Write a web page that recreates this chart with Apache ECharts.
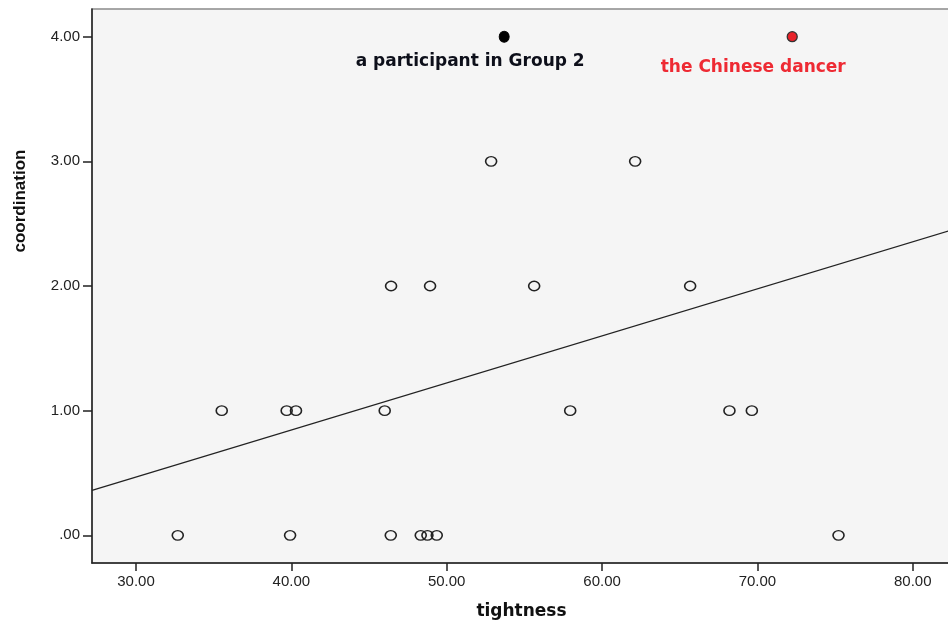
<!DOCTYPE html>
<html>
<head>
<meta charset="utf-8">
<script src="https://cdn.jsdelivr.net/npm/echarts@6/dist/echarts.min.js"></script>
<style>
  html, body { margin: 0; padding: 0; background: #ffffff; }
  #chart { width: 948px; height: 623px; }
</style>
</head>
<body>
<div id="chart"></div>
<script>
// tightness / coordination scores per participant
const tightness = [
  32.69, 39.92, 46.40, 48.33, 48.76, 49.36, 75.22,
  35.52, 39.70, 40.30, 46.01, 57.95, 68.20, 69.64,
  46.42, 48.93, 55.63, 65.67,
  52.86, 62.13
];
const coordination = [
  0, 0, 0, 0, 0, 0, 0,
  1, 1, 1, 1, 1, 1, 1,
  2, 2, 2, 2,
  3, 3
];
// highlighted participants
const groupTwoPoint = [53.70, 4];
const dancerPoint = [72.24, 4];

const xTicks = [30, 40, 50, 60, 70, 80];
const yTicks = [0, 1, 2, 3, 4];
const xRange = [27.17, 82.46];
const yRange = [-0.222, 4.222];

// least-squares fit over all participants
const allX = tightness.concat([groupTwoPoint[0], dancerPoint[0]]);
const allY = coordination.concat([groupTwoPoint[1], dancerPoint[1]]);
const n = allX.length;
const mx = allX.reduce((a, b) => a + b, 0) / n;
const my = allY.reduce((a, b) => a + b, 0) / n;
let sxy = 0, sxx = 0;
for (let i = 0; i < n; i++) {
  sxy += (allX[i] - mx) * (allY[i] - my);
  sxx += (allX[i] - mx) * (allX[i] - mx);
}
const slope = sxy / sxx;
const intercept = my - slope * mx;
const fitLine = xRange.map(x => [x, intercept + slope * x]);

const tickFmt = v => (v === 0 ? '.00' : v.toFixed(2));

const chart = echarts.init(document.getElementById('chart'), null, { renderer: 'canvas' });
chart.setOption({
  animation: false,
  backgroundColor: '#ffffff',
  grid: {
    left: 92, top: 9, right: -3, bottom: 60,
    outerBoundsMode: 'none', containLabel: false,
    show: true, backgroundColor: '#f5f5f5',
    borderColor: '#8a8a8a', borderWidth: 1.5
  },
  xAxis: {
    type: 'value', min: xRange[0], max: xRange[1],
    name: 'tightness', nameLocation: 'middle', nameGap: 40,
    nameTextStyle: { fontFamily: 'DejaVu Sans', fontWeight: 'bold', fontSize: 17, color: '#111' },
    axisLine: { show: true, onZero: false, lineStyle: { color: '#222', width: 1.5 } },
    axisTick: { show: true, customValues: xTicks, length: 8, lineStyle: { color: '#222', width: 1.5 } },
    axisLabel: { customValues: xTicks, formatter: tickFmt, fontFamily: 'Liberation Sans', fontSize: 15, color: '#222', margin: 11 },
    splitLine: { show: false }
  },
  yAxis: {
    type: 'value', min: yRange[0], max: yRange[1],
    axisLine: { show: true, onZero: false, lineStyle: { color: '#222', width: 1.5 } },
    axisTick: { show: true, customValues: yTicks, length: 9, lineStyle: { color: '#222', width: 1.5 } },
    axisLabel: { customValues: yTicks, formatter: tickFmt, fontFamily: 'Liberation Sans', fontSize: 15, color: '#222', margin: 12 },
    splitLine: { show: false }
  },
  graphic: [{
    type: 'text', x: 20, y: 201, rotation: Math.PI / 2,
    style: {
      text: 'coordination', font: 'bold 17px "Liberation Sans"', fill: '#111',
      align: 'center', verticalAlign: 'middle'
    }
  }],
  series: [
    {
      type: 'line', data: fitLine, symbol: 'none', silent: true,
      lineStyle: { color: '#222', width: 1.2 }, z: 2
    },
    {
      type: 'scatter', data: tightness.map((x, i) => [x, coordination[i]]),
      symbol: 'circle', symbolSize: [11, 9.5],
      itemStyle: { color: 'rgba(0,0,0,0)', borderColor: '#222', borderWidth: 1.5, opacity: 1 }, z: 3
    },
    {
      type: 'scatter', data: [groupTwoPoint], symbol: 'circle', symbolSize: [10, 11],
      itemStyle: { color: '#000', borderColor: '#000', borderWidth: 1, opacity: 1 },
      label: {
        show: true, position: 'bottom', distance: 10, offset: [-34, 0],
        formatter: 'a participant in Group 2',
        fontFamily: 'DejaVu Sans', fontWeight: 'bold', fontSize: 17, color: '#0d0f1a'
      }, z: 4
    },
    {
      type: 'scatter', data: [dancerPoint], symbol: 'circle', symbolSize: 10,
      itemStyle: { color: '#e8232a', borderColor: '#333', borderWidth: 1.3, opacity: 1 },
      label: {
        show: true, position: 'bottom', distance: 17, offset: [-39, 0],
        formatter: 'the Chinese dancer',
        fontFamily: 'DejaVu Sans', fontWeight: 'bold', fontSize: 17, color: '#ee2a33'
      }, z: 4
    }
  ]
});
</script>
</body>
</html>
